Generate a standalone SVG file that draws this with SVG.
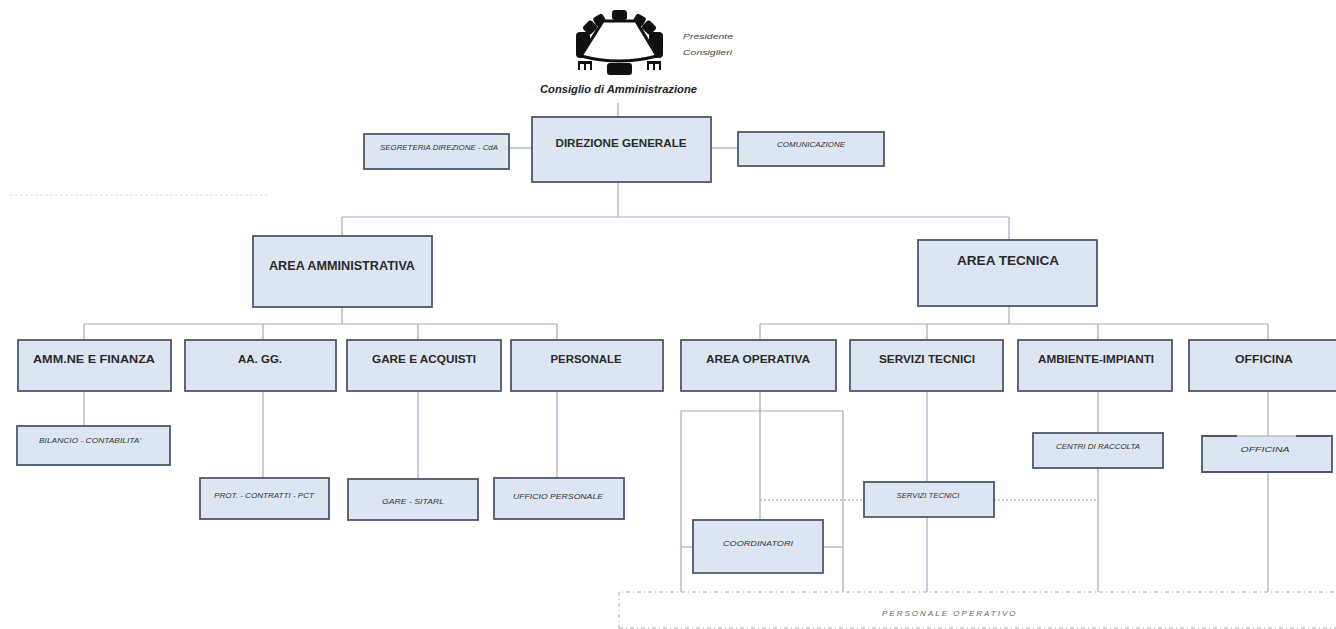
<svg xmlns="http://www.w3.org/2000/svg" width="1336" height="629" viewBox="0 0 1336 629">
<style>
.box{fill:#dce6f2;stroke:#4d586a;stroke-width:1.8}
.lbl{font-family:"Liberation Sans",Arial,sans-serif;font-weight:bold;fill:#2a2a2a;text-anchor:middle}
.big{font-size:12.5px}
.mid{font-size:11.5px}
.sm{font-family:"Liberation Sans",Arial,sans-serif;font-style:italic;font-size:7.5px;fill:#333;text-anchor:middle}
.ln{stroke:#9eabc2;stroke-width:1.2;fill:none}
.dot{stroke:#8f9fbf;stroke-width:1.2;stroke-dasharray:2 2;fill:none}
.dash{stroke:#a8a8a8;stroke-width:1;stroke-dasharray:4 3 1 3;fill:none}
.chair{fill:#111}
</style>
<rect width="1336" height="629" fill="#ffffff"/>

<line x1="10" y1="195" x2="270" y2="195" stroke="#dcdcdc" stroke-width="1" stroke-dasharray="3 2"/>

<g id="connectors">
  <line class="ln" x1="618" y1="103" x2="618" y2="117"/>
  <line class="ln" x1="509" y1="148" x2="532" y2="148"/>
  <line class="ln" x1="711" y1="148" x2="738" y2="148"/>
  <line class="ln" x1="618" y1="182" x2="618" y2="217"/>
  <line class="ln" x1="342" y1="217" x2="1009" y2="217"/>
  <line class="ln" x1="342" y1="217" x2="342" y2="236"/>
  <line class="ln" x1="1009" y1="217" x2="1009" y2="240"/>
  <line class="ln" x1="342" y1="307" x2="342" y2="324"/>
  <line class="ln" x1="84" y1="324" x2="557" y2="324"/>
  <line class="ln" x1="84" y1="324" x2="84" y2="340"/>
  <line class="ln" x1="263" y1="324" x2="263" y2="340"/>
  <line class="ln" x1="418" y1="324" x2="418" y2="340"/>
  <line class="ln" x1="557" y1="324" x2="557" y2="340"/>
  <line class="ln" x1="1009" y1="306" x2="1009" y2="324"/>
  <line class="ln" x1="760" y1="324" x2="1268" y2="324"/>
  <line class="ln" x1="760" y1="324" x2="760" y2="340"/>
  <line class="ln" x1="927" y1="324" x2="927" y2="340"/>
  <line class="ln" x1="1098" y1="324" x2="1098" y2="340"/>
  <line class="ln" x1="1268" y1="324" x2="1268" y2="340"/>
  <line class="ln" x1="84" y1="391" x2="84" y2="426"/>
  <line class="ln" x1="263" y1="391" x2="263" y2="478"/>
  <line class="ln" x1="418" y1="391" x2="418" y2="478"/>
  <line class="ln" x1="557" y1="391" x2="557" y2="478"/>
  <line class="ln" x1="760" y1="391" x2="760" y2="520"/>
  <path class="ln" d="M681,592 V411 H843 V592"/>
  <line class="ln" x1="681" y1="547" x2="693" y2="547"/>
  <line class="ln" x1="823" y1="547" x2="843" y2="547"/>
  <line class="ln" x1="927" y1="391" x2="927" y2="482"/>
  <line class="ln" x1="927" y1="517" x2="927" y2="592"/>
  <line class="ln" x1="1098" y1="391" x2="1098" y2="433"/>
  <line class="ln" x1="1098" y1="468" x2="1098" y2="592"/>
  <line class="ln" x1="1268" y1="391" x2="1268" y2="436"/>
  <line class="ln" x1="1268" y1="472" x2="1268" y2="592"/>
  <line class="dot" x1="760" y1="500" x2="864" y2="500"/>
  <line class="dot" x1="994" y1="500" x2="1098" y2="500"/>
</g>

<g id="cda">
  <rect class="chair" x="612" y="10" width="15" height="10" rx="3"/>
  <rect class="chair" x="594" y="15" width="11" height="10" rx="3" transform="rotate(-30 599.5 20)"/>
  <rect class="chair" x="634" y="15" width="11" height="10" rx="3" transform="rotate(30 639.5 20)"/>
  <rect class="chair" x="584" y="22" width="12" height="11" rx="3" transform="rotate(-45 590 27.5)"/>
  <rect class="chair" x="643" y="22" width="12" height="11" rx="3" transform="rotate(45 649 27.5)"/>
  <rect class="chair" x="576" y="32" width="14" height="26" rx="4"/>
  <rect class="chair" x="649" y="32" width="14" height="26" rx="4"/>
  <path d="M603,21 L636,21 L657,56 Q619,66 581,56 Z" fill="#ffffff" stroke="#111" stroke-width="3.2" stroke-linejoin="round"/>
  <rect class="chair" x="607" y="63" width="25" height="12" rx="3"/>
  <g class="chair">
    <rect x="578" y="61" width="14" height="3"/>
    <rect x="578" y="63" width="2" height="7"/>
    <rect x="584" y="63" width="2" height="7"/>
    <rect x="590" y="63" width="2" height="7"/>
    <rect x="647" y="61" width="14" height="3"/>
    <rect x="647" y="63" width="2" height="7"/>
    <rect x="653" y="63" width="2" height="7"/>
    <rect x="659" y="63" width="2" height="7"/>
  </g>
  <text x="683" y="39" font-family="Liberation Sans, Arial, sans-serif" font-style="italic" font-size="8" fill="#444" textLength="50" lengthAdjust="spacingAndGlyphs">Presidente</text>
  <text x="683" y="55" font-family="Liberation Sans, Arial, sans-serif" font-style="italic" font-size="8" fill="#444" textLength="49" lengthAdjust="spacingAndGlyphs">Consiglieri</text>
  <text x="540" y="93" font-family="Liberation Sans, Arial, sans-serif" font-style="italic" font-weight="bold" font-size="10.5" fill="#222" textLength="157" lengthAdjust="spacingAndGlyphs">Consiglio di Amministrazione</text>
</g>

<g id="direzione-generale">
  <rect class="box" x="532" y="117" width="179" height="65"/>
  <text class="lbl mid" x="621" y="147" textLength="131" lengthAdjust="spacingAndGlyphs">DIREZIONE GENERALE</text>
</g>
<g id="segreteria">
  <rect class="box" x="364" y="134" width="145" height="35"/>
  <text class="sm" x="439" y="150" textLength="118" lengthAdjust="spacingAndGlyphs">SEGRETERIA DIREZIONE - CdA</text>
</g>
<g id="comunicazione">
  <rect class="box" x="738" y="132" width="146" height="34"/>
  <text class="sm" x="811" y="147" textLength="68" lengthAdjust="spacingAndGlyphs">COMUNICAZIONE</text>
</g>

<g id="area-amministrativa">
  <rect class="box" x="253" y="236" width="179" height="71"/>
  <text class="lbl big" x="342" y="270" textLength="146" lengthAdjust="spacingAndGlyphs">AREA AMMINISTRATIVA</text>
</g>
<g id="area-tecnica">
  <rect class="box" x="918" y="240" width="179" height="66"/>
  <text class="lbl big" x="1008" y="265" textLength="102" lengthAdjust="spacingAndGlyphs">AREA TECNICA</text>
</g>

<g id="amm-finanza">
  <rect class="box" x="18" y="340" width="153" height="51"/>
  <text class="lbl mid" x="94" y="363" textLength="122" lengthAdjust="spacingAndGlyphs">AMM.NE E FINANZA</text>
</g>
<g id="aa-gg">
  <rect class="box" x="185" y="340" width="151" height="51"/>
  <text class="lbl mid" x="260" y="363">AA. GG.</text>
</g>
<g id="gare-acquisti">
  <rect class="box" x="347" y="340" width="154" height="51"/>
  <text class="lbl mid" x="424" y="363" textLength="104" lengthAdjust="spacingAndGlyphs">GARE E ACQUISTI</text>
</g>
<g id="personale">
  <rect class="box" x="511" y="340" width="152" height="51"/>
  <text class="lbl mid" x="586" y="363" textLength="71" lengthAdjust="spacingAndGlyphs">PERSONALE</text>
</g>
<g id="area-operativa">
  <rect class="box" x="681" y="340" width="155" height="51"/>
  <text class="lbl mid" x="758" y="363" textLength="104" lengthAdjust="spacingAndGlyphs">AREA OPERATIVA</text>
</g>
<g id="servizi-tecnici">
  <rect class="box" x="850" y="340" width="153" height="51"/>
  <text class="lbl mid" x="927" y="363" textLength="96" lengthAdjust="spacingAndGlyphs">SERVIZI TECNICI</text>
</g>
<g id="ambiente-impianti">
  <rect class="box" x="1018" y="340" width="154" height="51"/>
  <text class="lbl mid" x="1096" y="363" textLength="116" lengthAdjust="spacingAndGlyphs">AMBIENTE-IMPIANTI</text>
</g>
<g id="officina">
  <rect class="box" x="1189" y="340" width="150" height="51"/>
  <text class="lbl mid" x="1264" y="363" textLength="58" lengthAdjust="spacingAndGlyphs">OFFICINA</text>
</g>

<g id="bilancio">
  <rect class="box" x="17" y="426" width="153" height="39"/>
  <text class="sm" x="90" y="443" textLength="102" lengthAdjust="spacingAndGlyphs">BILANCIO - CONTABILITA'</text>
</g>
<g id="prot-contratti">
  <rect class="box" x="200" y="478" width="129" height="41"/>
  <text class="sm" x="264" y="498" textLength="100" lengthAdjust="spacingAndGlyphs">PROT. - CONTRATTI - PCT</text>
</g>
<g id="gare-sitarl">
  <rect class="box" x="348" y="479" width="130" height="41"/>
  <text class="sm" x="413" y="504" textLength="62" lengthAdjust="spacingAndGlyphs">GARE - SITARL</text>
</g>
<g id="ufficio-personale">
  <rect class="box" x="494" y="478" width="130" height="41"/>
  <text class="sm" x="558" y="499" textLength="90" lengthAdjust="spacingAndGlyphs">UFFICIO PERSONALE</text>
</g>
<g id="coordinatori">
  <rect class="box" x="693" y="520" width="130" height="53"/>
  <text class="sm" x="758" y="546" textLength="70" lengthAdjust="spacingAndGlyphs">COORDINATORI</text>
</g>
<g id="servizi-tecnici-2">
  <rect class="box" x="864" y="482" width="130" height="35"/>
  <text class="sm" x="928" y="498" textLength="63" lengthAdjust="spacingAndGlyphs">SERVIZI TECNICI</text>
</g>
<g id="centri-raccolta">
  <rect class="box" x="1033" y="433" width="130" height="35"/>
  <text class="sm" x="1098" y="449" textLength="84" lengthAdjust="spacingAndGlyphs">CENTRI DI RACCOLTA</text>
</g>
<g id="officina-2">
  <rect x="1202" y="436" width="130" height="36" fill="#dce6f2"/>
  <path d="M1237,436 H1202 V472 H1332 V436 H1296" fill="none" stroke="#4d586a" stroke-width="1.8"/>
  <line x1="1237" y1="436" x2="1296" y2="436" stroke="#9aa6ba" stroke-width="1.2"/>
  <text class="sm" x="1265" y="452" textLength="49" lengthAdjust="spacingAndGlyphs">OFFICINA</text>
</g>

<g id="personale-operativo">
  <path class="dash" d="M619,629 V592 H1336"/>
  <line class="dash" x1="619" y1="628" x2="1336" y2="628"/>
  <text x="882" y="616" font-family="Liberation Sans, Arial, sans-serif" font-style="italic" font-size="8" fill="#666" letter-spacing="2.5" textLength="136" lengthAdjust="spacing">PERSONALE OPERATIVO</text>
</g>
</svg>
